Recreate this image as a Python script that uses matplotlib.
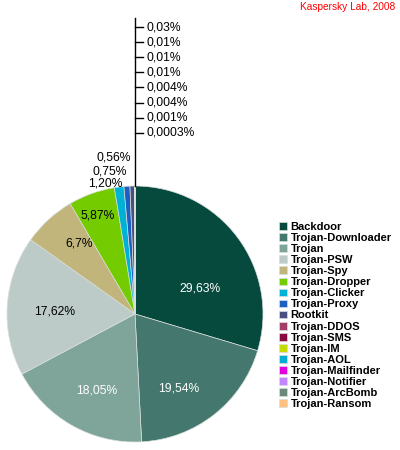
import matplotlib
matplotlib.use("Agg")
import matplotlib.pyplot as plt
import numpy as np

plt.rcParams['font.family'] = ['Liberation Sans', 'DejaVu Sans']

names = ["Backdoor", "Trojan-Downloader", "Trojan", "Trojan-PSW", "Trojan-Spy",
         "Trojan-Dropper", "Trojan-Clicker", "Trojan-Proxy", "Rootkit", "Trojan-DDOS",
         "Trojan-SMS", "Trojan-IM", "Trojan-AOL", "Trojan-Mailfinder", "Trojan-Notifier",
         "Trojan-ArcBomb", "Trojan-Ransom"]
values = [29.63, 19.54, 18.05, 17.62, 6.7, 5.87, 1.20, 0.75, 0.56,
          0.03, 0.01, 0.01, 0.01, 0.004, 0.004, 0.001, 0.0003]
pct_labels = ["29,63%", "19,54%", "18,05%", "17,62%", "6,7%", "5,87%", "1,20%", "0,75%", "0,56%",
              "0,03%", "0,01%", "0,01%", "0,01%", "0,004%", "0,004%", "0,001%", "0,0003%"]
colors = ["#064a3e", "#44786e", "#7fa49a", "#bccbc8", "#c1b57b", "#74cb00", "#00b1d6",
          "#1d5fc0", "#4a4f82", "#a23f66", "#890c40", "#c5da00", "#00acd2", "#e100de",
          "#c486ff", "#6b8979", "#ffc080"]

W, H = 400, 450
fig = plt.figure(figsize=(4, 4.5), dpi=100)
ax = fig.add_axes([0, 0, 1, 1])

cx, cy, R = 135, 136, 128
wedges, _ = ax.pie(values, colors=colors, startangle=90, counterclock=False,
                   center=(cx, cy), radius=R,
                   wedgeprops=dict(edgecolor="#d8dedc", linewidth=0.5))
ax.set_xlim(0, W)
ax.set_ylim(0, H)
ax.set_aspect('equal')
ax.axis('off')

FS = 8.7

# inside labels: (distance from centre px, angle tweak deg, colour)
inside = [(70, -15, 'white'), (86, -8, 'white'), (86, 3, 'white'),
          (80, 2, 'black'), (90, -4, 'black'), (105, 1, 'black')]
for i, (d, tw, c) in enumerate(inside):
    w = wedges[i]
    mid = np.deg2rad((w.theta1 + w.theta2) / 2 + tw)
    ax.text(cx + d * np.cos(mid), cy + d * np.sin(mid), pct_labels[i],
            ha='center', va='center', fontsize=FS, color=c)

# small stacked labels outside at the top
small_off = [(-30, 131), (-25, 143), (-21, 156)]
for k, i in enumerate([6, 7, 8]):
    dx, dy = small_off[k]
    ax.text(cx + dx, cy + dy, pct_labels[i], ha='center', va='center',
            fontsize=FS, color='black')

# tiny labels with leader line
top_y = H - 18
ax.plot([cx, cx], [cy + R, top_y], color='black', lw=1)
for k, i in enumerate(range(9, 17)):
    y = H - (27 + 15.1 * k)
    ax.plot([cx, cx + 8], [y, y], color='black', lw=1)
    ax.text(cx + 11.5, y, pct_labels[i], ha='left', va='center', fontsize=FS, color='black')

fig.legend(handles=wedges, labels=names, loc='upper left',
           bbox_to_anchor=(279 / W, 1 - 222 / H), frameon=False,
           prop=dict(family='Liberation Sans', weight='bold', size=8),
           handlelength=0.7, handleheight=0.7, handletextpad=0.35,
           labelspacing=0.095, borderpad=0, borderaxespad=0)

fig.text(395 / W, 1 - 7.5 / H, "Kaspersky Lab, 2008", ha='right', va='center',
         color='#ff0000', fontsize=7.3)

fig.savefig("out.png", dpi=100)
